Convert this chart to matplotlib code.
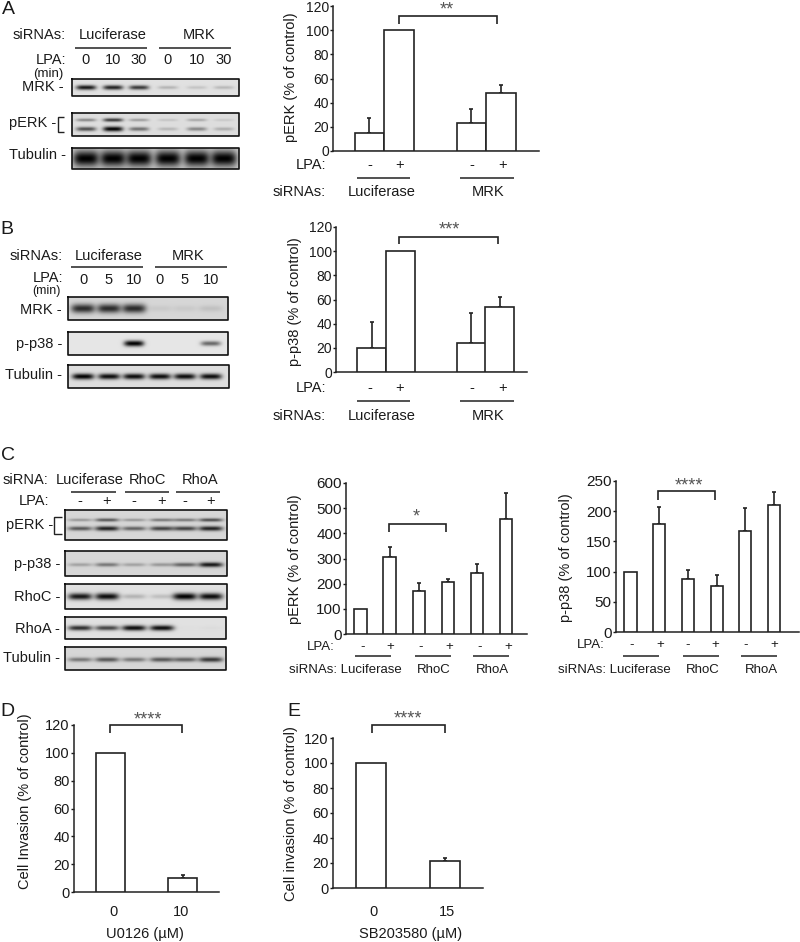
import matplotlib
matplotlib.use('Agg')
import matplotlib.pyplot as plt
import numpy as np

plt.rcParams['font.family'] = ['Liberation Sans', 'DejaVu Sans']
W, H = 800, 942
INK = '#222222'

# bar values
a_vals = [15, 100, 23, 48]
a_errs = [12, 0, 12, 7]
b_vals = [20, 100, 24, 54]
b_errs = [21, 0, 25, 8]
c1_vals = [100, 305, 170, 205, 243, 457]
c1_errs = [0, 42, 34, 15, 36, 105]
c2_vals = [100, 179, 88, 76, 167, 210]
c2_errs = [0, 28, 14, 18, 38, 21]
d_vals = [100, 10]
d_errs = [0, 2]
e_vals = [100, 22]
e_errs = [0, 2]

ticks_120 = [0, 20, 40, 60, 80, 100, 120]
ticks_600 = [0, 100, 200, 300, 400, 500, 600]
ticks_250 = [0, 50, 100, 150, 200, 250]

# blot band strength per lane (0 = none, 1 = black)
a_mrk = [0.9, 0.85, 0.75, 0.2, 0.13, 0.18]
a_perk_up = [0.4, 0.75, 0.3, 0.12, 0.25, 0.1]
a_perk_lo = [0.65, 1.0, 0.5, 0.18, 0.4, 0.22]
a_tub = [1, 1, 1, 1, 1, 1]
b_mrk = [0.8, 0.8, 0.8, 0.06, 0.06, 0.1]
b_p38 = [0, 0, 1, 0, 0, 0.55]
b_tub = [1, 0.95, 0.95, 0.95, 0.95, 0.95]
c_perk_up = [0.3, 0.6, 0.3, 0.45, 0.45, 0.65]
c_perk_lo = [0.6, 0.85, 0.55, 0.7, 0.7, 0.85]
c_p38 = [0.25, 0.45, 0.25, 0.3, 0.55, 0.9]
c_rhoc = [0.9, 0.95, 0.2, 0.15, 1, 0.95]
c_rhoa = [0.8, 0.7, 0.95, 0.95, 0.01, 0.02]
c_tub = [0.45, 0.6, 0.45, 0.6, 0.55, 0.75]

fig = plt.figure(figsize=(W / 100, H / 100), dpi=100, facecolor='white')
ov = fig.add_axes([0, 0, 1, 1], zorder=10)
ov.patch.set_alpha(0)
ov.axis('off')


def txt(x, y, s, size=10.5, ha='center', color='#1a1a1a', **kw):
    ov.text(x, y, s, fontsize=size, ha=ha, va='center', color=color, **kw)


def line(xs, ys, lw=1.1):
    ov.plot(xs, ys, color=INK, lw=lw, solid_capstyle='butt', solid_joinstyle='miter')


def bracket(x0, x1, top, bot, stars, sx, sy):
    line([x0, x0, x1, x1], [bot, top, top, bot], lw=1.2)
    txt(sx, sy, stars, size=13, color='#555555')


def blot(x0, x1, y0, y1, lanes, bands, bg=0.86, band_w=10):
    xs = np.linspace(x0, x1, (x1 - x0) * 2)
    ys = np.linspace(y0, y1, (y1 - y0) * 2)
    xx, yy = np.meshgrid(xs, ys)
    img = np.full(xx.shape, bg)
    for frac, thick, levels in bands:
        yc = y0 + frac * (y1 - y0)
        for lx, lev in zip(lanes, levels):
            prof = np.exp(-((xx - lx) / band_w) ** 4 - ((yy - yc) / (thick * (0.6 + 0.4 * lev))) ** 2)
            img = img * (1 - lev * prof)
    ov.imshow(img, cmap='gray', vmin=0, vmax=1, extent=(x0, x1, y1, y0), aspect='auto',
              interpolation='bilinear')
    ov.plot([x0, x1, x1, x0, x0], [y0, y0, y1, y1, y0], color='#111111', lw=1.2)


def bars(l, r, base, top, ymax, ticks, centers, width, vals, errs, ylabel, lab_x, lab_y, tsize=10):
    ax = fig.add_axes([l / W, 1 - base / H, (r - l) / W, (base - top) / H])
    ax.bar(centers, vals, width=width, facecolor='white', edgecolor=INK, lw=1.2, zorder=3)
    for c, v, e in zip(centers, vals, errs):
        if e > 0:
            ax.errorbar([c], [v], yerr=[[0], [e]], fmt='none', ecolor=INK, elinewidth=1.2,
                        capsize=1.2, capthick=1.2, clip_on=False, zorder=2)
    ax.set_xlim(l, r)
    ax.set_ylim(0, ymax)
    ax.set_yticks(ticks)
    ax.set_xticks([])
    ax.tick_params(axis='y', length=2, width=1, pad=1, labelsize=tsize, colors='#1a1a1a')
    for s in ['top', 'right']:
        ax.spines[s].set_visible(False)
    for s in ['left', 'bottom']:
        ax.spines[s].set_linewidth(1.1)
        ax.spines[s].set_color(INK)
    ax.set_ylabel(ylabel, fontsize=10.5, color='#1a1a1a')
    ax.yaxis.set_label_coords(lab_x, lab_y, transform=ov.transData)
    return ax


# ---- panel A blots
txt(8, 9, 'A', size=14)
lanes_a = [86, 113, 139, 168, 197, 224]
txt(66, 35, 'siRNAs:', ha='right')
txt(113, 35, 'Luciferase')
txt(199, 35, 'MRK')
line([75, 147], [48, 48])
line([159, 231], [48, 48])
txt(66, 60, 'LPA:', ha='right')
for x, s in zip(lanes_a, ['0', '10', '30', '0', '10', '30']):
    txt(x, 60, s)
txt(48, 74, '(min)', size=9.5)
txt(64, 87, 'MRK -', ha='right')
txt(56, 123, 'pERK -', ha='right')
line([64, 58, 58, 64], [117, 117, 132, 132], lw=1)
txt(66, 155, 'Tubulin -', ha='right')
blot(72, 239, 79, 96, lanes_a, [(0.5, 2.5, a_mrk)], bg=0.88)
blot(72, 239, 113, 136, lanes_a, [(0.3, 2, a_perk_up), (0.7, 2.5, a_perk_lo)], bg=0.87)
blot(72, 239, 148, 169, lanes_a, [(0.5, 8, a_tub)], bg=0.8, band_w=13)

# ---- panel A chart
bars(333, 539, 151, 6, 120, ticks_120, [369.5, 399, 471.5, 501], 29.5, a_vals, a_errs,
     'pERK (% of control)', 298, 77)
bracket(399, 497, 16, 24, '**', 447, 10)
txt(326, 165, 'LPA:', ha='right')
for x, s in zip([370, 400, 472, 503], ['-', '+', '-', '+']):
    txt(x, 165, s)
line([357, 410], [178, 178])
line([460, 514], [178, 178])
txt(326, 192, 'siRNAs:', ha='right')
txt(382, 192, 'Luciferase')
txt(488, 192, 'MRK')

# ---- panel B blots
txt(7, 229, 'B', size=14)
lanes_b = [83, 109, 134, 160, 185, 211]
txt(63, 256, 'siRNAs:', ha='right')
txt(109, 256, 'Luciferase')
txt(188, 256, 'MRK')
line([71, 143], [267, 267])
line([155, 227], [267, 267])
txt(63, 278, 'LPA:', ha='right')
for x, s in zip(lanes_b, ['0', '5', '10', '0', '5', '10']):
    txt(x, 280, s)
txt(46, 291, '(min)', size=9)
txt(62, 310, 'MRK -', ha='right')
txt(62, 344, 'p-p38 -', ha='right')
txt(62, 375, 'Tubulin -', ha='right')
blot(68, 228, 297, 320, lanes_b, [(0.5, 5, b_mrk)], bg=0.84, band_w=12)
blot(68, 228, 332, 355, lanes_b, [(0.5, 3, b_p38)], bg=0.9)
blot(68, 229, 365, 388, lanes_b, [(0.5, 3, b_tub)], bg=0.87, band_w=11)

# ---- panel B chart
bars(336, 527, 372, 227, 120, ticks_120, [371.5, 400.5, 471, 499.5], 29, b_vals, b_errs,
     'p-p38 (% of control)', 302, 302)
bracket(399, 498, 237, 244, '***', 449, 230)
txt(326, 388, 'LPA:', ha='right')
for x, s in zip([370, 400, 472, 503], ['-', '+', '-', '+']):
    txt(x, 388, s)
line([357, 410], [401, 401])
line([460, 514], [401, 401])
txt(326, 416, 'siRNAs:', ha='right')
txt(382, 416, 'Luciferase')
txt(488, 416, 'MRK')

# ---- panel C blots
txt(8, 455, 'C', size=14)
lanes_c = [80, 107, 134, 162, 185, 211]
txt(3, 480, 'siRNA:', ha='left')
txt(90, 480, 'Luciferase')
txt(147, 480, 'RhoC')
txt(200, 480, 'RhoA')
line([71, 116], [492, 492])
line([125, 169], [492, 492])
line([176, 220], [492, 492])
txt(49, 501, 'LPA:', ha='right')
for x, s in zip(lanes_c, ['-', '+', '-', '+', '-', '+']):
    txt(x, 501, s)
txt(53, 525, 'pERK -', ha='right')
line([62, 54, 54, 62], [517, 517, 534, 534], lw=1)
txt(60, 564, 'p-p38 -', ha='right')
txt(60, 597, 'RhoC -', ha='right')
txt(60, 629, 'RhoA -', ha='right')
txt(60, 658, 'Tubulin -', ha='right')
blot(65, 227, 510, 540, lanes_c, [(0.33, 2, c_perk_up), (0.62, 2.5, c_perk_lo)], bg=0.84, band_w=12)
blot(65, 227, 551, 576, lanes_c, [(0.55, 2.5, c_p38)], bg=0.84, band_w=12)
blot(65, 227, 584, 609, lanes_c, [(0.5, 3.5, c_rhoc)], bg=0.88, band_w=12)
blot(65, 226, 617, 639, lanes_c, [(0.5, 2.8, c_rhoa)], bg=0.88, band_w=12)
blot(65, 226, 647, 670, lanes_c, [(0.55, 2.8, c_tub)], bg=0.84, band_w=12)

# ---- panel C charts
bars(346, 527, 634, 483, 600, ticks_600, [360.5, 389.5, 419, 448, 477, 506], 12.5, c1_vals, c1_errs,
     'pERK (% of control)', 302, 559, tsize=11)
bracket(389, 446, 524, 532, '*', 416, 517)
txt(335, 647, 'LPA:', ha='right', size=9.5)
for x, s in zip([363, 390, 421, 449, 480, 508], ['-', '+', '-', '+', '-', '+']):
    txt(x, 647, s, size=9.5)
line([355, 391], [656, 656])
line([415, 451], [656, 656])
line([473, 509], [656, 656])
txt(289, 670, 'siRNAs: Luciferase', ha='left', size=9.5)
txt(434, 670, 'RhoC', size=9.5)
txt(492, 670, 'RhoA', size=9.5)

bars(616, 799, 632, 481, 250, ticks_250, [630.5, 659, 688, 717, 745, 774], 12.5, c2_vals, c2_errs,
     'p-p38 (% of control)', 573, 558, tsize=11)
bracket(658, 715, 491, 500, '****', 689, 486)
txt(605, 645, 'LPA:', ha='right', size=9.5)
for x, s in zip([632, 660, 688, 715, 746, 774], ['-', '+', '-', '+', '-', '+']):
    txt(x, 645, s, size=9.5)
line([623, 659], [656, 656])
line([683, 719], [656, 656])
line([741, 777], [656, 656])
txt(558, 670, 'siRNAs: Luciferase', ha='left', size=9.5)
txt(703, 670, 'RhoC', size=9.5)
txt(761, 670, 'RhoA', size=9.5)

# ---- panel D
txt(7, 712, 'D', size=14)
ax_d = bars(74, 219, 892, 725, 120, ticks_120, [110.5, 182.5], 29, d_vals, d_errs,
            'Cell Invasion (% of control)', 32, 801, tsize=10.5)
bracket(110, 182, 725, 733, '****', 148, 720)
txt(113, 912, '0')
txt(181, 912, '10')
txt(145, 934, 'U0126 (\u00b5M)')

# ---- panel E
txt(294, 712, 'E', size=14)
ax_e = bars(333, 483, 888, 738, 120, ticks_120, [371, 445], 30, e_vals, e_errs,
            'Cell invasion (% of control)', 298, 814, tsize=10.5)
bracket(372, 445, 725, 733, '****', 408, 719)
txt(373, 912, '0')
txt(447, 912, '15')
txt(411, 934, 'SB203580 (\u00b5M)')

ov.set_xlim(0, W)
ov.set_ylim(H, 0)
fig.savefig('out.png', dpi=100)
